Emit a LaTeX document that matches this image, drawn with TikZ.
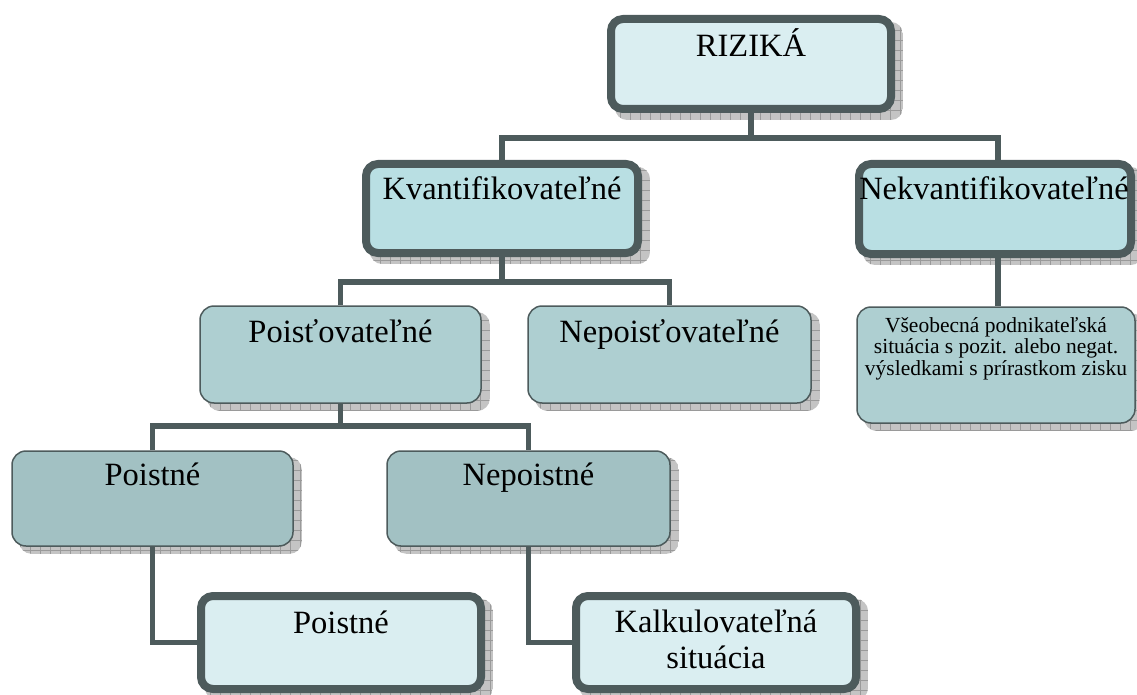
\documentclass[tikz,border=0pt]{standalone}
\usepackage{fontspec}
\setmainfont{Liberation Serif}
\usetikzlibrary{calc}
\pgfdeclarelayer{shadowlayer}
\pgfdeclarelayer{linelayer}
\pgfsetlayers{shadowlayer,linelayer,main}
\definecolor{edge}{HTML}{4D5B5C}
\definecolor{fillA}{HTML}{DAEEF1}
\definecolor{fillB}{HTML}{B9DFE3}
\definecolor{fillC}{HTML}{AECFD1}
\definecolor{fillD}{HTML}{A2C1C3}
\definecolor{shadefill}{HTML}{C4C4C4}
\definecolor{shadegrid}{HTML}{9A9A9A}
\newcommand\BoxShadow[1]{%
  \begin{scope}
    \clip[rounded corners=12pt] ($(#1.north west)+(8,7)$) rectangle ($(#1.south east)+(8,7)$);
    \fill[shadefill] ($(#1.north west)+(8,7)$) rectangle ($(#1.south east)+(8,7)$);
    \draw[shadegrid, line width=0.7pt, step=10pt] ($(#1.north west)+(8,7)$) grid ($(#1.south east)+(8,7)$);
  \end{scope}}
\begin{document}
\begin{tikzpicture}[x=1pt,y=-1pt,
  thickbox/.style={draw=edge, line width=8pt, rounded corners=12pt, inner sep=0pt, outer sep=4pt},
  thinbox/.style={draw=edge, line width=1.5pt, rounded corners=14pt, inner sep=0pt},
  link/.style={draw=edge, line width=5.5pt},
  lbl/.style={font=\fontsize{32.5}{39}\selectfont, anchor=base, inner sep=0pt},
  smalllbl/.style={font=\fontsize{21.5}{22}\selectfont, anchor=base, inner sep=0pt}]
\useasboundingbox (0,0) rectangle (1137,695);

% boxes
\node[thickbox, fill=fillA, minimum width=280pt, minimum height=90pt] (riz) at (751,64) {};
\node[thickbox, fill=fillB, minimum width=272pt, minimum height=89pt] (kv) at (502,208.5) {};
\node[thickbox, fill=fillB, minimum width=272pt, minimum height=90pt] (nek) at (995,209) {};
\node[thinbox, fill=fillC, minimum width=281pt, minimum height=97pt] (poi) at (340.5,354.5) {};
\node[thinbox, fill=fillC, minimum width=283pt, minimum height=97pt] (nep) at (669.5,354.5) {};
\node[thinbox, fill=fillC, minimum width=278pt, minimum height=116pt] (vse) at (996,365) {};
\node[thinbox, fill=fillD, minimum width=281pt, minimum height=95pt] (pst) at (152.5,498.5) {};
\node[thinbox, fill=fillD, minimum width=283pt, minimum height=95pt] (npst) at (528.5,498.5) {};
\node[thickbox, fill=fillA, minimum width=280pt, minimum height=93pt] (pst2) at (341,642.5) {};
\node[thickbox, fill=fillA, minimum width=280pt, minimum height=93pt] (kal) at (716,642.5) {};

% texts
\node[lbl] (rizT) at (751,57) {RIZIKÁ};
\node[lbl] (kvT) at (502,200) {Kvantifikovateľné};
\node[lbl] (nekT) at (994,200) {Nekvantifikovateľné};
\node[lbl] (poiT) at (340.5,342) {Poisťovateľné};
\node[lbl] (nepT) at (669.5,342) {Nepoisťovateľné};
\node[smalllbl] (vseT1) at (996,332) {Všeobecná podnikateľská};
\node[smalllbl] (vseT2) at (996,353.5) {situácia s pozit. alebo negat.};
\node[smalllbl] (vseT3) at (996,375) {výsledkami s prírastkom zisku};
\node[lbl] (pstT) at (152.5,485) {Poistné};
\node[lbl] (npstT) at (528.5,485) {Nepoistné};
\node[lbl] (pst2T) at (341,633) {Poistné};
\node[lbl] (kalT1) at (716,632) {Kalkulovateľná};
\node[lbl] (kalT2) at (716,668) {situácia};

% shadows
\begin{pgfonlayer}{shadowlayer}
  \BoxShadow{riz}\BoxShadow{kv}\BoxShadow{nek}\BoxShadow{poi}\BoxShadow{nep}
  \BoxShadow{vse}\BoxShadow{pst}\BoxShadow{npst}\BoxShadow{pst2}\BoxShadow{kal}
\end{pgfonlayer}

% connectors
\begin{pgfonlayer}{linelayer}
  \coordinate (j1) at (751,138);
  \coordinate (j2) at (502,282);
  \coordinate (j3) at (340.5,426);
  \coordinate (nekDown) at (998,258);
  \draw[link] (riz.south) -- (j1);
  \draw[link] (kv.north) |- (j1) -| ($(nek.north)+(3,0)$);
  \draw[link] (kv.south) -- (j2);
  \draw[link] (poi.north) |- (j2) -| (nep.north);
  \draw[link] (nekDown) -- (nekDown |- vse.north);
  \draw[link] (poi.south) -- (j3);
  \draw[link] (pst.north) |- (j3) -| (npst.north);
  \draw[link] (pst.south) |- (pst2.west);
  \draw[link] (npst.south) |- (kal.west);
\end{pgfonlayer}
\end{tikzpicture}
\end{document}
